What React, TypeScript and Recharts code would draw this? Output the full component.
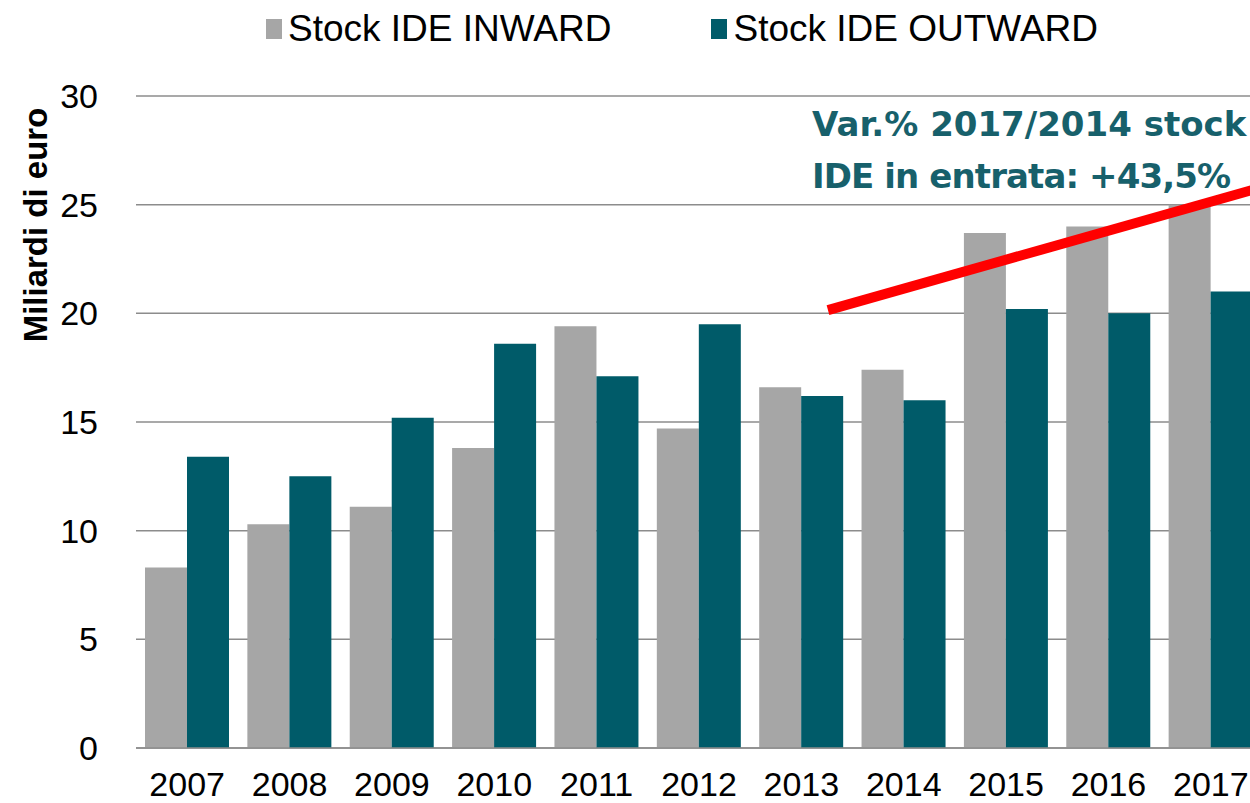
import { Bar, BarChart, CartesianGrid, ReferenceLine, XAxis, YAxis } from "recharts"

const years = ["2007", "2008", "2009", "2010", "2011", "2012", "2013", "2014", "2015", "2016", "2017"]
const inward = [8.3, 10.3, 11.1, 13.8, 19.4, 14.7, 16.6, 17.4, 23.7, 24.0, 25.0]
const outward = [13.4, 12.5, 15.2, 18.6, 17.1, 19.5, 16.2, 16.0, 20.2, 20.0, 21.0]
const yTicks = [0, 5, 10, 15, 20, 25, 30]
// trend arrow from 2014 to 2017, in category units (0..11) and billions
const trend = [
  { x: 6.76, y: 20.15 },
  { x: 11, y: 25.8 },
]

const data = years.map((y, i) => ({ year: y, inward: inward[i], outward: outward[i] }))

const GRAY = "#a6a6a6"
const TEAL = "#005b69"

export default function App() {
  return (
    <div
      style={{
        position: "fixed",
        top: 0,
        left: 0,
        width: 1250,
        height: 803,
        overflow: "hidden",
        background: "#fff",
        fontFamily: "'Liberation Sans', Arial, sans-serif",
      }}
    >
      <BarChart
        width={1290}
        height={803}
        data={data}
        margin={{ top: 96, right: 28, bottom: 0, left: 0 }}
        barGap={0}
        barSize={42}
      >
        <CartesianGrid vertical={false} stroke="#8c8c8c" strokeWidth={1.5} />
        <XAxis
          dataKey="year"
          height={55}
          tickLine={false}
          tickSize={0}
          tickMargin={24}
          axisLine={{ stroke: "#8c8c8c", strokeWidth: 1.5 }}
          tick={{ fill: "#000", fontSize: 34 }}
          interval={0}
        />
        <XAxis xAxisId="line" dataKey="pos" type="number" domain={[0, 11]} allowDataOverflow hide />
        <YAxis
          width={136}
          domain={[0, 30]}
          ticks={yTicks}
          axisLine={false}
          tickLine={false}
          tickSize={0}
          tickMargin={38}
          tick={{ fill: "#000", fontSize: 34 }}
        />
        <Bar dataKey="inward" fill={GRAY} isAnimationActive={false} />
        <Bar dataKey="outward" fill={TEAL} isAnimationActive={false} />
        <ReferenceLine xAxisId="line" segment={trend} stroke="#ff0000" strokeWidth={10} ifOverflow="visible" />
      </BarChart>

      {/* legend */}
      <div style={{ position: "absolute", top: 8, left: 266, display: "flex", alignItems: "center", fontSize: 37, color: "#000" }}>
        <span style={{ width: 16, height: 20, background: GRAY, marginRight: 6 }} />
        <span>Stock IDE INWARD</span>
        <span style={{ width: 16, height: 20, background: TEAL, marginLeft: 100, marginRight: 6 }} />
        <span>Stock IDE OUTWARD</span>
      </div>

      {/* y axis title */}
      <div
        style={{
          position: "absolute",
          left: 36,
          top: 225,
          transform: "translate(-50%, -50%) rotate(-90deg)",
          whiteSpace: "nowrap",
          fontSize: 33,
          fontWeight: "bold",
          color: "#000",
        }}
      >
        Miliardi di euro
      </div>

      {/* annotation */}
      <div
        style={{
          position: "absolute",
          left: 812,
          top: 98,
          fontFamily: "'DejaVu Sans', Verdana, sans-serif",
          fontWeight: "bold",
          fontSize: 34,
          lineHeight: "52px",
          color: "#17606b",
          whiteSpace: "nowrap",
        }}
      >
        <div>Var.% 2017/2014 stock</div>
        <div style={{ letterSpacing: -0.9 }}>IDE in entrata: +43,5%</div>
      </div>
    </div>
  )
}
